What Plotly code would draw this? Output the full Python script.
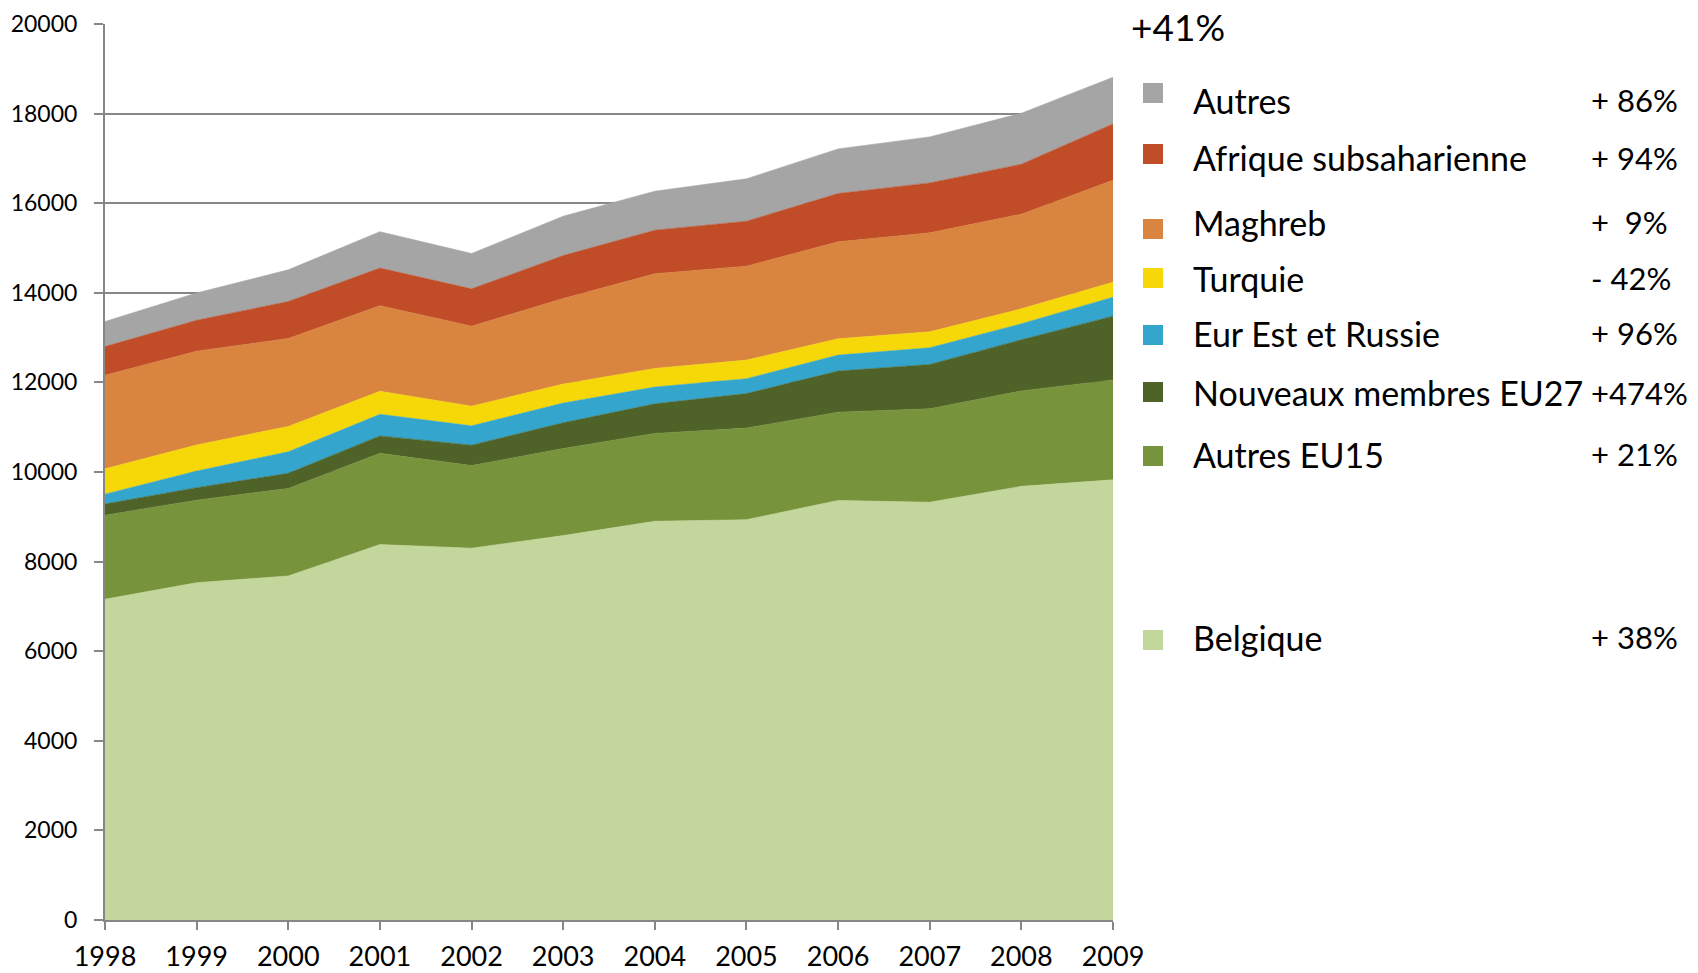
import plotly.graph_objects as go

# data (persons per year, stacked bottom -> top)
years = [1998, 1999, 2000, 2001, 2002, 2003, 2004, 2005, 2006, 2007, 2008, 2009]

belgique = [7160, 7530, 7680, 8380, 8300, 8580, 8900, 8935, 9365, 9325, 9680, 9825]
autres_eu15 = [1876, 1842, 1952, 2037, 1843, 1944, 1962, 2045, 1971, 2087, 2130, 2230]
nouveaux_eu27 = [250, 279, 339, 389, 456, 575, 660, 770, 917, 989, 1142, 1424]
eur_est_russie = [220, 370, 480, 482, 431, 440, 374, 332, 356, 372, 357, 424]
turquie = [565, 584, 566, 515, 440, 423, 416, 416, 365, 357, 334, 335]
maghreb = [2090, 2092, 1963, 1910, 1786, 1910, 2112, 2097, 2163, 2208, 2112, 2275]
afrique_subsah = [639, 690, 825, 840, 832, 958, 974, 1003, 1079, 1115, 1115, 1257]
autres = [558, 610, 707, 811, 788, 879, 870, 945, 996, 1027, 1138, 1040]

series_names = ["Belgique", "Autres EU15", "Nouveaux membres EU27", "Eur Est et Russie",
                "Turquie", "Maghreb", "Afrique subsaharienne", "Autres"]
series_values = [belgique, autres_eu15, nouveaux_eu27, eur_est_russie,
                 turquie, maghreb, afrique_subsah, autres]
series_change = ["+ 38%", "+ 21%", "+474%", "+ 96%", "- 42%", "+\u00a0\u00a09%", "+ 94%", "+ 86%"]
total_change = "+41%"

colors = ["#C3D69B", "#77933C", "#4F6228", "#34A5CC", "#F6D808", "#D9843F", "#C04D28", "#A5A5A5"]

FONT = "Lato"
GREY = "#878787"

# plot area in pixels (page 1698 x 973)
W, H = 1698, 973
PL, PR, PT, PB = 105, 1113, 24, 920


def px_x(px):
    return (px - PL) / (PR - PL)


def px_y(py):
    return (PB - py) / (PB - PT)


fig = go.Figure()
for name, vals, col in zip(series_names, series_values, colors):
    fig.add_trace(go.Scatter(
        x=years, y=vals, name=name, stackgroup="one", mode="lines",
        line=dict(width=0.6, color=col), fillcolor=col, showlegend=False
    ))

# legend drawn by hand: square + label + change, rows in pixel positions
text_y = {"Autres": 100, "Afrique subsaharienne": 158, "Maghreb": 222, "Turquie": 278,
          "Eur Est et Russie": 333, "Nouveaux membres EU27": 393, "Autres EU15": 454,
          "Belgique": 637}
square_y = {"Autres": 93, "Afrique subsaharienne": 154, "Maghreb": 229, "Turquie": 278,
            "Eur Est et Russie": 335, "Nouveaux membres EU27": 392, "Autres EU15": 456,
            "Belgique": 640}

shapes = []
annotations = []
for name, col, chg in zip(series_names, colors, series_change):
    sy = square_y[name]
    shapes.append(dict(
        type="rect", xref="paper", yref="paper",
        x0=px_x(1143), x1=px_x(1163), y0=px_y(sy + 10), y1=px_y(sy - 10),
        fillcolor=col, line=dict(width=0)
    ))
    ty = text_y[name]
    annotations.append(dict(
        xref="paper", yref="paper", x=px_x(1191), y=px_y(ty),
        xanchor="left", yanchor="middle", text=name, showarrow=False,
        font=dict(family=FONT, size=34, color="#000000")
    ))
    annotations.append(dict(
        xref="paper", yref="paper", x=px_x(1589), y=px_y(ty),
        xanchor="left", yanchor="middle", text=chg, showarrow=False,
        font=dict(family=FONT, size=31, color="#000000")
    ))

annotations.append(dict(
    xref="paper", yref="paper", x=px_x(1129), y=px_y(26),
    xanchor="left", yanchor="middle", text=total_change, showarrow=False,
    font=dict(family=FONT, size=37, color="#000000")
))

fig.update_layout(
    width=W, height=H,
    margin=dict(l=PL, r=W - PR, t=PT, b=H - PB, pad=0, autoexpand=False),
    paper_bgcolor="white", plot_bgcolor="white",
    font=dict(family=FONT, color="#000000"),
    shapes=shapes, annotations=annotations,
    xaxis=dict(
        range=[1998, 2009], tickvals=years, ticktext=[str(y) for y in years],
        showgrid=False, zeroline=False, showline=True, linecolor=GREY, linewidth=2,
        ticks="outside", ticklen=8, tickwidth=2, tickcolor=GREY, automargin=False,
        tickfont=dict(family=FONT, size=27, color="#000000"), ticklabelstandoff=4
    ),
    yaxis=dict(
        range=[0, 20000], dtick=2000, tickformat="d",
        showgrid=True, gridcolor=GREY, gridwidth=2, zeroline=False,
        showline=True, linecolor=GREY, linewidth=2, automargin=False,
        ticks="outside", ticklen=9, tickwidth=2, tickcolor=GREY,
        tickfont=dict(family=FONT, size=23, color="#000000"), ticklabelstandoff=12
    ),
)

fig.write_html("out.html", config={"displayModeBar": False},
               post_script="document.body.style.margin='0';")
